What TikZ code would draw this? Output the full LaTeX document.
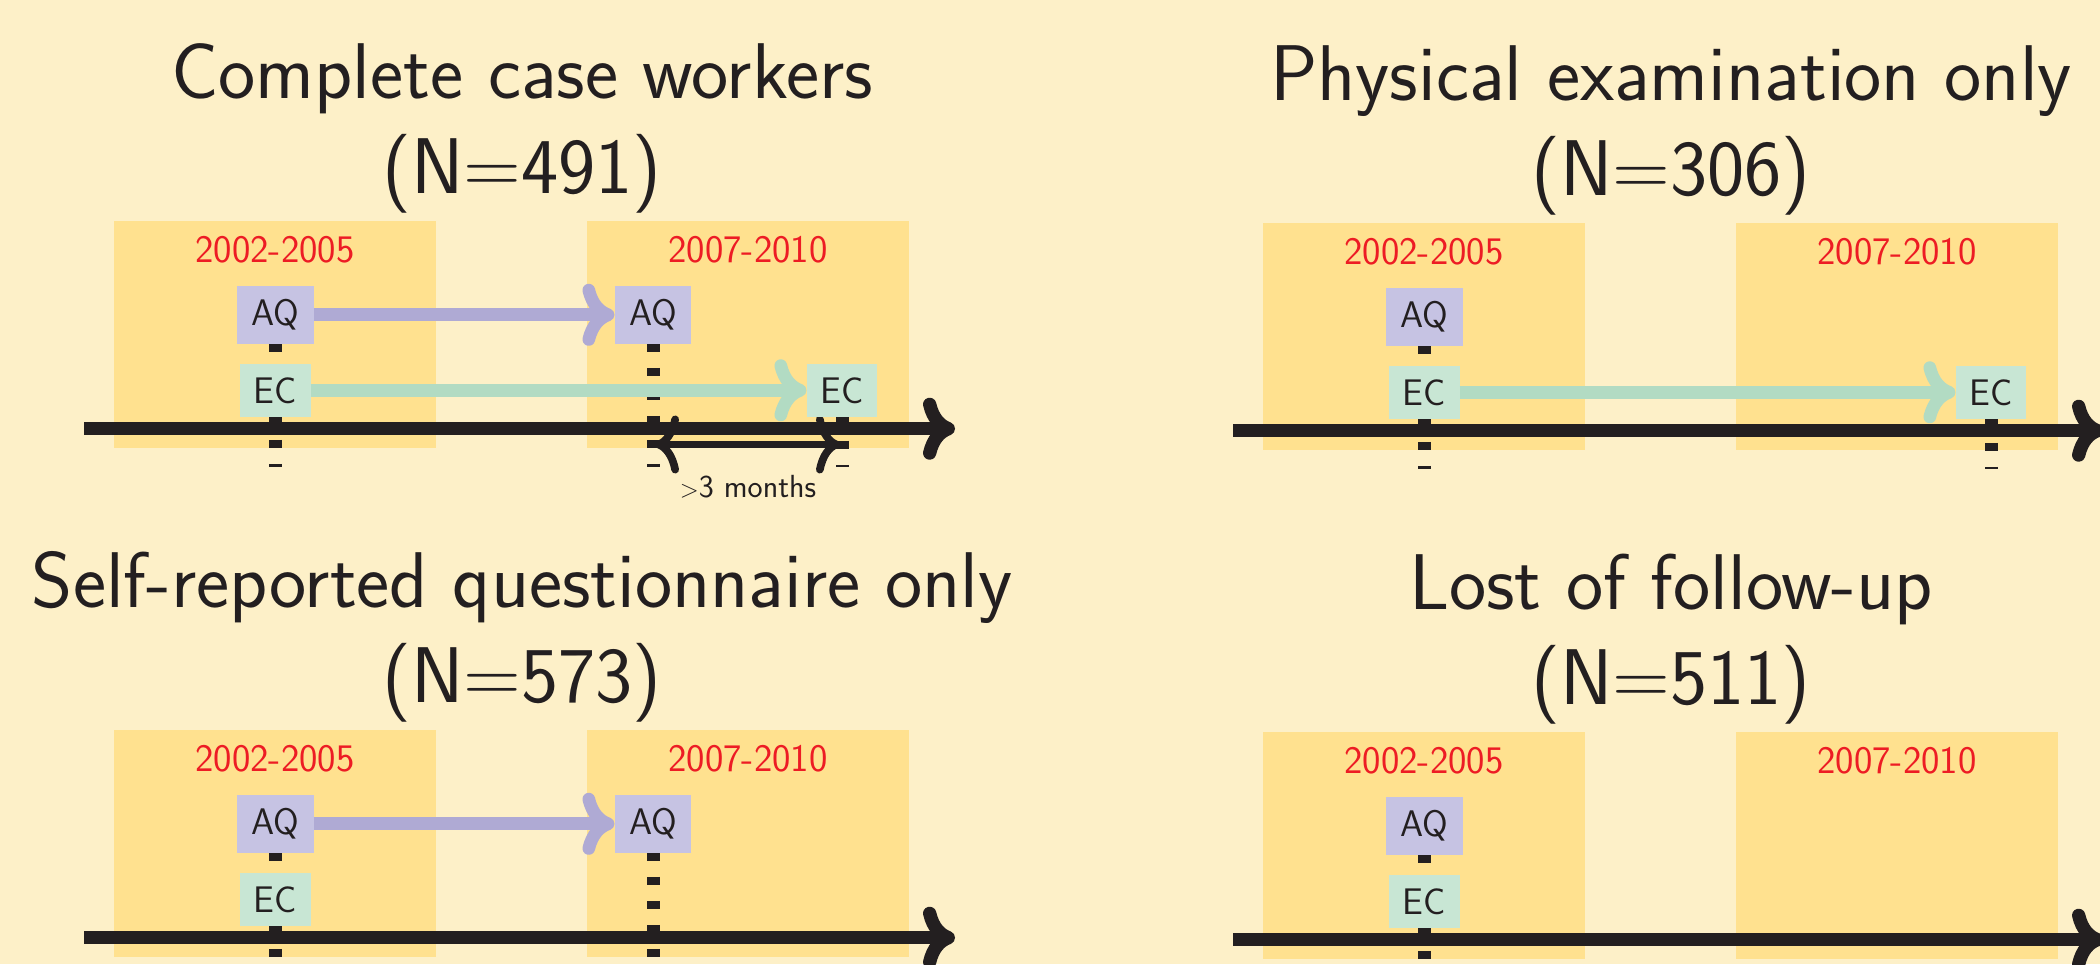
\documentclass[tikz,border=0pt]{standalone}
\usetikzlibrary{arrows.meta}
\definecolor{bgc}{HTML}{FDF0C8}
\definecolor{boxc}{HTML}{FFE18F}
\definecolor{yearred}{HTML}{ED1C24}
\definecolor{aqfill}{HTML}{C6C3E3}
\definecolor{aqline}{HTML}{AFAAD4}
\definecolor{ecfill}{HTML}{C8E6D4}
\definecolor{ecline}{HTML}{B2DBC3}
\definecolor{blk}{HTML}{231F20}
\pgfdeclarelayer{back}
\pgfdeclarelayer{mid}
\pgfsetlayers{back,mid,main}
\tikzset{
  titletext/.style={anchor=base,inner sep=0pt,text=blk,font=\sffamily\fontsize{79}{95}\selectfont},
  yeartext/.style={anchor=base,inner sep=0pt,text=yearred,font=\sffamily\fontsize{39}{44}\selectfont},
  notetext/.style={anchor=base,inner sep=0pt,text=blk,font=\sffamily\fontsize{32}{36}\selectfont},
  periodbox/.style={fill=boxc,draw=none,minimum width=322pt,minimum height=227pt,inner sep=0pt},
  aqbox/.style={fill=aqfill,draw=none,minimum width=76.7pt,minimum height=57.7pt,inner sep=0pt,text=blk,font=\sffamily\fontsize{37}{44}\selectfont},
  ecbox/.style={fill=ecfill,draw=none,minimum width=70.7pt,minimum height=52.7pt,inner sep=0pt,text=blk,font=\sffamily\fontsize{37}{44}\selectfont},
  dotline/.style={draw=blk,line width=13pt,dash pattern=on 8pt off 16pt},
  timeline/.style={draw=blk,line width=13.3pt,-{Computer Modern Rightarrow[length=32pt,width=62pt]}},
  aqarrow/.style={draw=aqline,line width=12.7pt,-{Computer Modern Rightarrow[length=32pt,width=62pt]}},
  ecarrow/.style={draw=ecline,line width=12.7pt,-{Computer Modern Rightarrow[length=32pt,width=62pt]}},
  gaparrow/.style={draw=blk,line width=7.7pt,{Computer Modern Rightarrow[length=24pt,width=58pt]}-{Computer Modern Rightarrow[length=24pt,width=58pt]}},
}
\newcommand\commonpanel[3]{%
  \node[titletext] (#1-t1) at (522,98.3) {#2};
  \node[titletext] (#1-t2) at (522,193.3) {#3};
  \begin{pgfonlayer}{back}
    \node[periodbox] (#1-p1) at (275,334.5) {};
    \node[periodbox] (#1-p2) at (748,334.5) {};
  \end{pgfonlayer}
  \node[yeartext] (#1-y1) at (275,262.7) {2002-2005};
  \node[yeartext] (#1-y2) at (748,262.7) {2007-2010};
  \node[aqbox] (#1-aq1) at (275.3,314.8) {AQ};
  \node[ecbox] (#1-ec1) at (275.3,390.3) {EC};
  \coordinate (#1-s) at (84,428.7);
  \coordinate (#1-e) at (955,428.7);
  \coordinate (#1-b1) at (275.3,467);
  \begin{pgfonlayer}{mid}
    \draw[dotline] (#1-aq1.south) -- (#1-b1);
  \end{pgfonlayer}
}
\begin{document}
\begin{tikzpicture}[x=1pt,y=-1pt]
\useasboundingbox (0,0) rectangle (2100,964);
\begin{pgfonlayer}{back}
  \fill[bgc] (0,0) rectangle (2100,964);
\end{pgfonlayer}
% ---------- Panel A: complete case workers
\begin{scope}
  \commonpanel{a}{Complete case workers}{(N=491)}
  \node[aqbox] (a-aq2) at (653,314.8) {AQ};
  \node[ecbox] (a-ec2) at (842,390.3) {EC};
  \coordinate (a-b2) at (653,467);
  \coordinate (a-b3) at (842,467);
  \coordinate (a-g1) at (655,444.5);
  \coordinate (a-g2) at (840,444.5);
  \begin{pgfonlayer}{mid}
    \draw[dotline] (a-aq2.south) -- (a-b2);
    \draw[dotline] (a-ec2.south) -- (a-b3);
    \draw[gaparrow] (a-g1) -- (a-g2);
  \end{pgfonlayer}
  \node[notetext] (a-note) at (748,497.3) {$>$3 months};
  \draw[timeline] (a-s) -- (a-e);
  \draw[aqarrow] (a-aq1.east) -- (a-aq2.west);
  \draw[ecarrow] (a-ec1.east) -- (a-ec2.west);
\end{scope}
% ---------- Panel B: physical examination only
\begin{scope}[shift={(1149,2)}]
  \commonpanel{b}{Physical examination only}{(N=306)}
  \node[ecbox] (b-ec2) at (842,390.3) {EC};
  \coordinate (b-b3) at (842,467);
  \begin{pgfonlayer}{mid}
    \draw[dotline] (b-ec2.south) -- (b-b3);
  \end{pgfonlayer}
  \draw[timeline] (b-s) -- (b-e);
  \draw[ecarrow] (b-ec1.east) -- (b-ec2.west);
\end{scope}
% ---------- Panel C: self-reported questionnaire only
\begin{scope}[shift={(0,509)}]
  \commonpanel{c}{Self-reported questionnaire only}{(N=573)}
  \node[aqbox] (c-aq2) at (653,314.8) {AQ};
  \coordinate (c-b2) at (653,467);
  \begin{pgfonlayer}{mid}
    \draw[dotline] (c-aq2.south) -- (c-b2);
  \end{pgfonlayer}
  \draw[timeline] (c-s) -- (c-e);
  \draw[aqarrow] (c-aq1.east) -- (c-aq2.west);
\end{scope}
% ---------- Panel D: lost of follow-up
\begin{scope}[shift={(1149,511)}]
  \commonpanel{d}{Lost of follow-up}{(N=511)}
  \draw[timeline] (d-s) -- (d-e);
\end{scope}
\end{tikzpicture}
\end{document}
